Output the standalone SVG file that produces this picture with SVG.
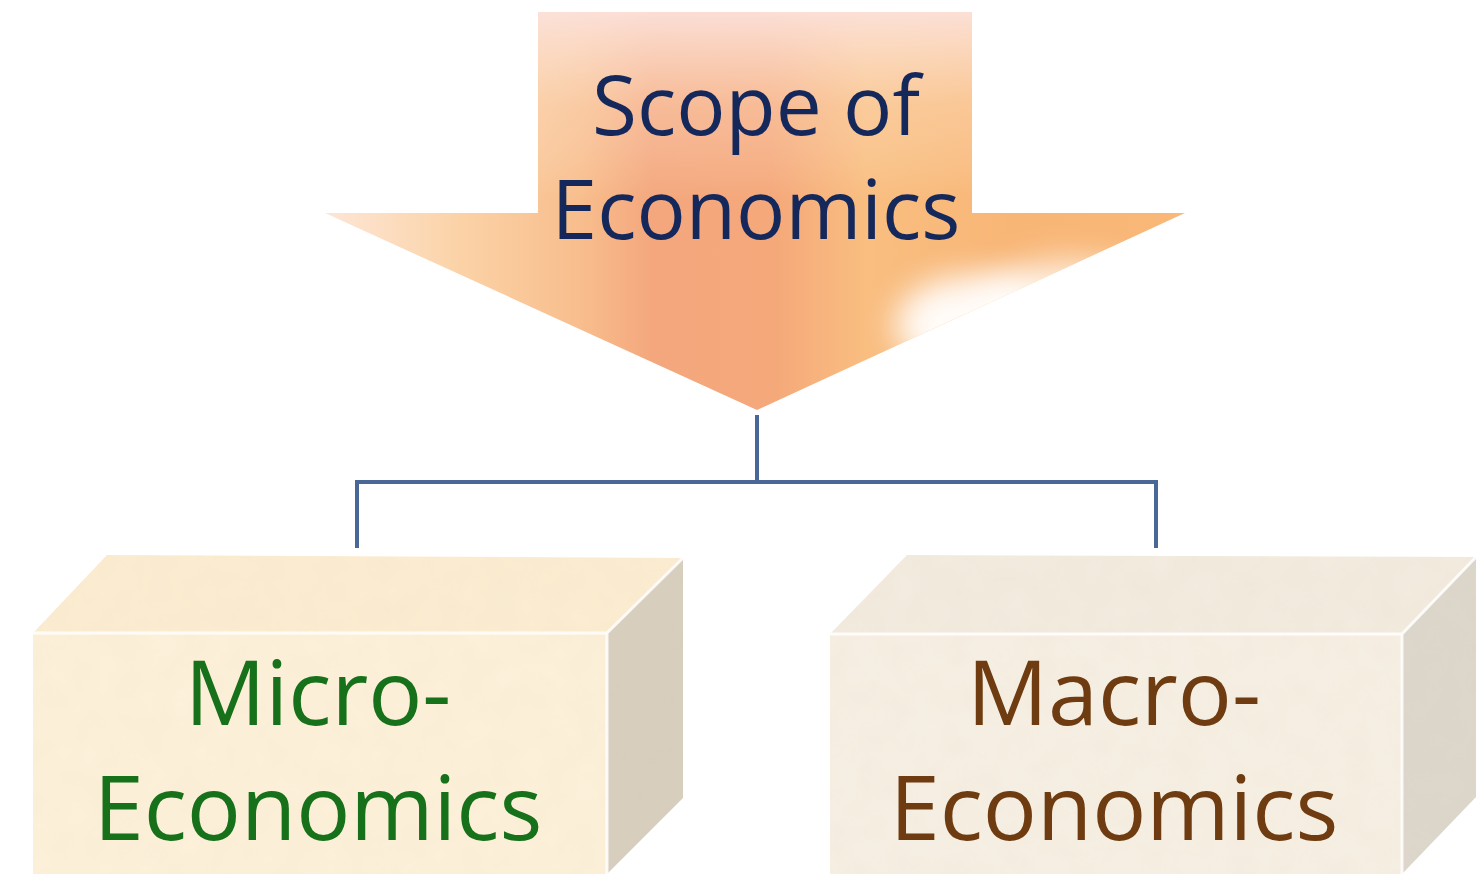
<svg xmlns="http://www.w3.org/2000/svg" width="1480" height="874" viewBox="0 0 1480 874">
  <defs>
    <linearGradient id="arrowFill" x1="325" y1="0" x2="1185" y2="0" gradientUnits="userSpaceOnUse">
      <stop offset="0" stop-color="#fde6d6"/>
      <stop offset="0.16" stop-color="#fbd2a6"/>
      <stop offset="0.3" stop-color="#f8bd8c"/>
      <stop offset="0.38" stop-color="#f4a77d"/>
      <stop offset="0.52" stop-color="#f5a87a"/>
      <stop offset="0.63" stop-color="#f9be80"/>
      <stop offset="0.8" stop-color="#f8b676"/>
      <stop offset="1" stop-color="#f9b878"/>
    </linearGradient>
    <linearGradient id="arrowTop" x1="0" y1="12" x2="0" y2="200" gradientUnits="userSpaceOnUse">
      <stop offset="0" stop-color="#fce4e0" stop-opacity="0.9"/>
      <stop offset="0.5" stop-color="#fde8d6" stop-opacity="0.3"/>
      <stop offset="1" stop-color="#ffffff" stop-opacity="0"/>
    </linearGradient>
    <filter id="soft" x="-50%" y="-50%" width="200%" height="200%">
      <feGaussianBlur stdDeviation="16"/>
    </filter>
    <filter id="grain" x="0" y="0" width="100%" height="100%">
      <feTurbulence type="fractalNoise" baseFrequency="0.035" numOctaves="3" seed="4" result="n"/>
      <feColorMatrix in="n" type="matrix" values="0 0 0 0 0.6  0 0 0 0 0.5  0 0 0 0 0.35  0 0 0 0.09 -0.01" result="c"/>
      <feComposite in="c" in2="SourceGraphic" operator="in" result="t"/>
      <feMerge><feMergeNode in="SourceGraphic"/><feMergeNode in="t"/></feMerge>
    </filter>
    <clipPath id="arrowClip">
      <polygon points="538,12 972,12 972,213 1185,213 757,410 325,213 538,213"/>
    </clipPath>
  </defs>
  <style>
    .title { font-family: "Open Sans", "Liberation Sans", sans-serif; font-size: 82px; fill: #15285c; text-anchor: middle; }
    .label { font-family: "Open Sans", "Liberation Sans", sans-serif; font-size: 90px; text-anchor: middle; }
    .micro { fill: #17701a; }
    .macro { fill: #6e3c10; }
    .link { fill: none; stroke: #4a6897; stroke-width: 4; }
    .edge { fill: none; stroke: #ffffff; stroke-width: 3; stroke-opacity: 0.85; }
  </style>

  <rect width="1480" height="874" fill="#ffffff"/>

  <!-- Top block arrow -->
  <g id="scope">
    <g clip-path="url(#arrowClip)">
      <rect x="320" y="10" width="870" height="405" fill="url(#arrowFill)"/>
      <rect x="320" y="10" width="870" height="200" fill="url(#arrowTop)"/>
      <ellipse cx="975" cy="325" rx="80" ry="50" fill="#ffffff" opacity="0.95" filter="url(#soft)"/>
      <ellipse cx="1070" cy="300" rx="90" ry="40" fill="#ffffff" opacity="0.75" filter="url(#soft)"/>
    </g>
    <text class="title" x="756" y="135">Scope of</text>
    <text class="title" x="756" y="239">Economics</text>
  </g>

  <!-- Connectors -->
  <g id="connectors">
    <path class="link" d="M757,415 V482"/>
    <path class="link" d="M357,548 V482 H1156 V548"/>
  </g>

  <!-- Left box -->
  <g id="micro">
    <g filter="url(#grain)">
      <polygon points="33,633 107,555 683,558 607,633" fill="#fcedd2"/>
      <polygon points="607,633 683,558 683,798 607,874" fill="#d8cfbf"/>
      <rect x="33" y="633" width="574" height="241" fill="#fdf1da"/>
    </g>
    <path class="edge" d="M33,633 H607 V874 M607,633 L683,558"/>
    <text class="label micro" x="318" y="725">Micro-</text>
    <text class="label micro" x="318" y="840">Economics</text>
  </g>

  <!-- Right box -->
  <g id="macro">
    <g filter="url(#grain)">
      <polygon points="830,634 907,555 1476,557 1402,634" fill="#f3ebdf"/>
      <polygon points="1402,634 1476,557 1476,797 1402,874" fill="#ddd7cc"/>
      <rect x="830" y="634" width="572" height="240" fill="#f6efe3"/>
    </g>
    <path class="edge" d="M830,634 H1402 V874 M1402,634 L1476,557"/>
    <text class="label macro" x="1114" y="725">Macro-</text>
    <text class="label macro" x="1114" y="840">Economics</text>
  </g>
</svg>
